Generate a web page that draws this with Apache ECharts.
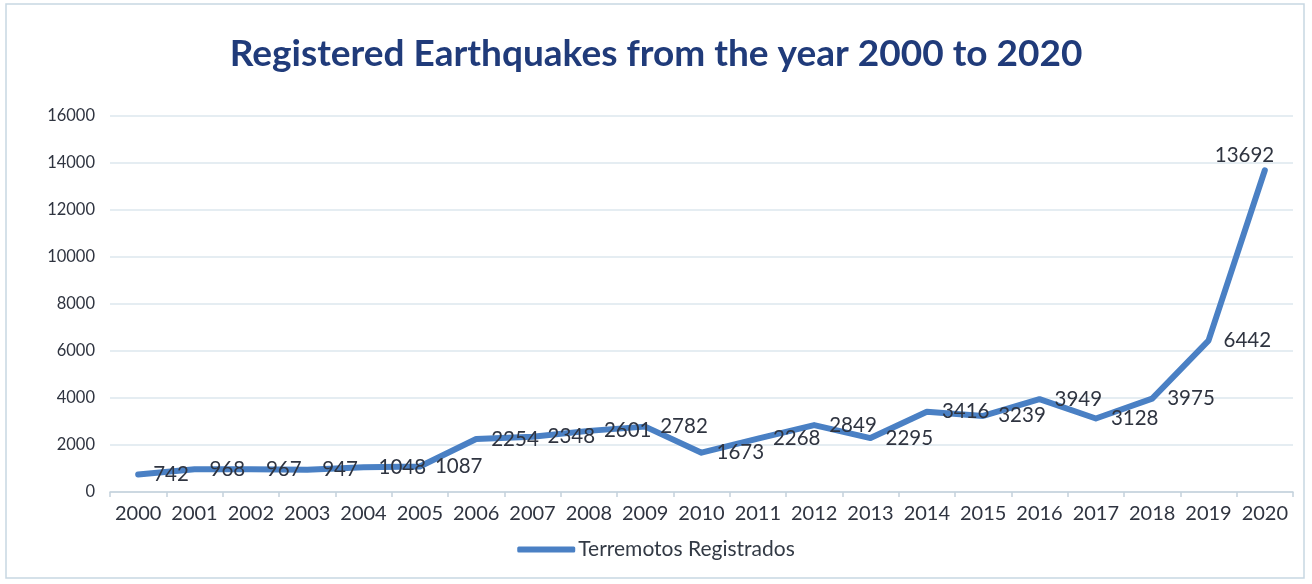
<!DOCTYPE html>
<html>
<head>
<meta charset="utf-8">
<script src="https://cdn.jsdelivr.net/npm/echarts@6/dist/echarts.min.js"></script>
<style>
html,body{margin:0;padding:0;background:#fff;}
#c{width:1312px;height:584px;}
</style>
</head>
<body>
<div id="c"></div>
<script>
const years = ['2000','2001','2002','2003','2004','2005','2006','2007','2008','2009','2010','2011','2012','2013','2014','2015','2016','2017','2018','2019','2020'];
const quakes = [742,968,967,947,1048,1087,2254,2348,2601,2782,1673,2268,2849,2295,3416,3239,3949,3128,3975,6442,13692];
const seriesName = 'Terremotos Registrados';
const titleText = 'Registered Earthquakes from the year 2000 to 2020';

const chart = echarts.init(document.getElementById('c'), null, {renderer:'canvas'});
const lastIdx = quakes.length - 1;
const data = quakes.map((v, i) => i === lastIdx
  ? {value: v, label: {position: [-50, -25]}}
  : v);

chart.setOption({
  backgroundColor: '#ffffff',
  animation: false,
  graphic: [{
    type: 'rect',
    shape: {x: 6, y: 4, width: 1298, height: 574},
    style: {fill: 'none', stroke: '#c8d7e2', lineWidth: 1.5},
    silent: true
  }],
  title: {
    text: titleText,
    left: 'center',
    top: 31,
    textStyle: {fontFamily: 'Lato', fontWeight: 'bold', fontSize: 37, color: '#203b7a'}
  },
  legend: {
    bottom: 19,
    left: 'center',
    itemWidth: 58,
    itemHeight: 6,
    itemGap: 3,
    icon: 'roundRect',
    itemStyle: {color: '#4a80c4', opacity: 1},
    textStyle: {fontFamily: 'Lato', fontSize: 21, color: '#333a45', padding: [0,0,0,-2]},
    data: [seriesName]
  },
  grid: {left: 110, right: 19, top: 116, bottom: 92, containLabel: false},
  xAxis: {
    type: 'category',
    data: years,
    boundaryGap: true,
    axisLine: {lineStyle: {color: '#c3d1dc', width: 1.5}},
    axisTick: {show: true, length: 5, lineStyle: {color: '#c3d1dc', width: 1.5}},
    axisLabel: {interval: 0, fontFamily: 'Lato', fontSize: 20, color: '#2f3440', margin: 12}
  },
  yAxis: {
    type: 'value',
    min: 0,
    max: 16000,
    interval: 2000,
    axisLine: {show: false},
    axisTick: {show: false},
    axisLabel: {fontFamily: 'Lato', fontSize: 16.5, color: '#2f3440', margin: 15, formatter: v => String(v)},
    splitLine: {lineStyle: {color: '#dde7ee', width: 1.5}}
  },
  series: [{
    name: seriesName,
    type: 'line',
    data: data,
    symbol: 'circle',
    symbolSize: 0.1,
    showSymbol: true,
    itemStyle: {color: '#4a80c4'},
    smooth: false,
    lineStyle: {color: '#4a80c4', width: 6, cap: 'round', join: 'round'},
    labelLayout: {hideOverlap: false},
    label: {
      show: true,
      position: 'right',
      distance: 15,
      fontFamily: 'Lato',
      fontSize: 20.5,
      color: '#2f3440'
    }
  }]
});
</script>
</body>
</html>
